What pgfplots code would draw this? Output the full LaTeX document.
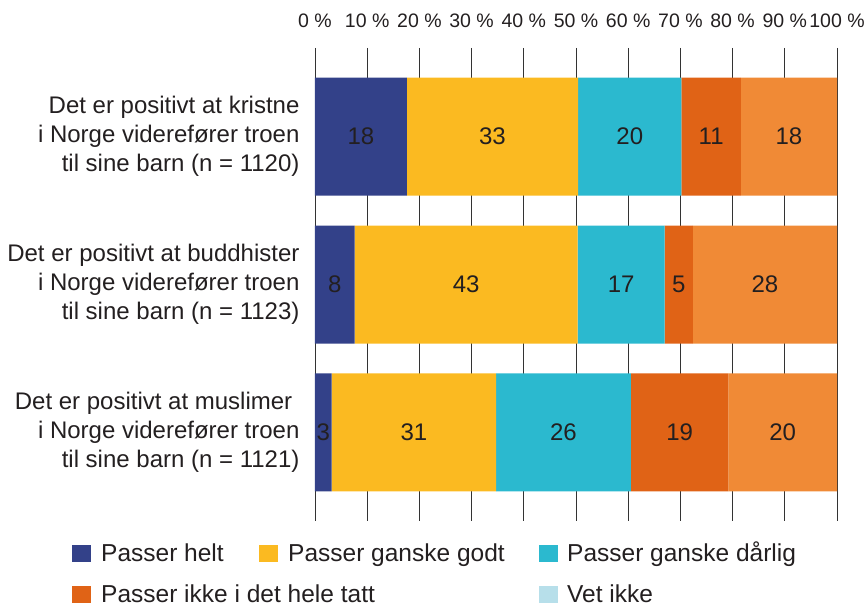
\documentclass[border=0pt]{standalone}
\usepackage{fontspec}
\setmainfont{Liberation Sans}
\usepackage{pgfplots}
\usepackage{pgfplotstable}
\pgfplotsset{compat=1.18}

\definecolor{cHelt}{HTML}{334189}
\definecolor{cGodt}{HTML}{FBBA21}
\definecolor{cDarlig}{HTML}{2BB9CF}
\definecolor{cIkke}{HTML}{E06316}
\definecolor{cRest}{HTML}{F08A36}
\definecolor{cVet}{HTML}{B7DFEA}
\definecolor{txt}{HTML}{231F20}

% segment widths, labels as printed
\pgfplotstableread{
y x lab
0 17.6 18
1 7.6 8
2 3.2 3
}\helt
\pgfplotstableread{
y x lab
0 32.8 33
1 42.7 43
2 31.5 31
}\godt
\pgfplotstableread{
y x lab
0 19.8 20
1 16.7 17
2 25.8 26
}\darlig
\pgfplotstableread{
y x lab
0 11.4 11
1 5.4 5
2 18.7 19
}\ikke
\pgfplotstableread{
y x lab
0 18.4 18
1 27.6 28
2 20.8 20
}\rest

\begin{document}
\begin{tikzpicture}
\path[use as bounding box] (0,0) rectangle (865pt,607pt);
\begin{axis}[
    at={(315pt,86pt)}, anchor=south west,
    scale only axis,
    width=522pt, height=473pt,
    xbar stacked,
    bar width=118pt,
    xmin=0, xmax=100,
    ymin=-0.6, ymax=2.6,
    y dir=reverse,
    axis line style={draw=none},
    major tick length=0pt,
    xmajorgrids,
    grid style={black!80, line width=0.9pt},
    xtick={0,10,...,100},
    xticklabels={0 \%,10 \%,20 \%,30 \%,40 \%,50 \%,60 \%,70 \%,80 \%,90 \%,100 \%},
    xticklabel pos=upper,
    xticklabel style={font=\fontsize{19.5}{22}\selectfont, text=txt, yshift=17pt},
    ytick={0,1,2},
    yticklabels={
        {Det er positivt at kristne\\i Norge viderefører troen\\til sine barn (n = 1120)},
        {Det er positivt at buddhister\\i Norge viderefører troen\\til sine barn (n = 1123)},
        {Det er positivt at muslimer\hspace*{0.3em}\\i Norge viderefører troen\\til sine barn (n = 1121)}},
    yticklabel style={font=\fontsize{24}{29}\selectfont, text=txt, align=right, xshift=-12pt},
    point meta=explicit symbolic,
    nodes near coords,
    every node near coord/.append style={anchor=center, font=\fontsize{24}{28}\selectfont, text=txt},
]
\addplot[fill=cHelt, draw=none] table[x=x, y=y, meta=lab] {\helt};
\addplot[fill=cGodt, draw=none] table[x=x, y=y, meta=lab] {\godt};
\addplot[fill=cDarlig, draw=none] table[x=x, y=y, meta=lab] {\darlig};
\addplot[fill=cIkke, draw=none] table[x=x, y=y, meta=lab] {\ikke};
\addplot[fill=cRest, draw=none] table[x=x, y=y, meta=lab] {\rest};
\end{axis}

% legend
\begin{scope}[every node/.style={anchor=base west, inner sep=0pt, text=txt, font=\fontsize{24.5}{28}\selectfont}]
\fill[cHelt] (72pt,45pt) rectangle (91pt,62pt);
\node at (101pt,45pt) {Passer helt};
\fill[cGodt] (259pt,45pt) rectangle (278pt,62pt);
\node at (288pt,45pt) {Passer ganske godt};
\fill[cDarlig] (539pt,45pt) rectangle (558pt,62pt);
\node at (567pt,45pt) {Passer ganske dårlig};
\fill[cIkke] (72pt,4pt) rectangle (91pt,21pt);
\node at (101pt,4pt) {Passer ikke i det hele tatt};
\fill[cVet] (539pt,4pt) rectangle (558pt,21pt);
\node at (567pt,4pt) {Vet ikke};
\end{scope}
\end{tikzpicture}
\end{document}
